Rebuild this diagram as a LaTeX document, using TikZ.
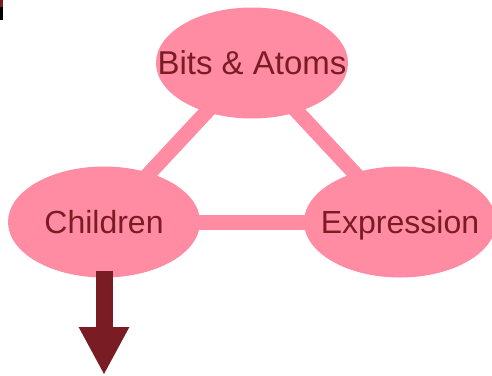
\documentclass[tikz,border=0pt]{standalone}
\usepackage{fontspec}
\setmainfont{Liberation Sans}
\usepackage{xcolor}
\usetikzlibrary{shapes.geometric, arrows.meta, backgrounds}
\definecolor{petal}{RGB}{255,140,162}
\definecolor{wine}{RGB}{122,28,36}
\tikzstyle{bubble} = [
    ellipse,
    minimum width=192pt, minimum height=111pt,
    inner sep=0pt,
    text height=23pt, text depth=0pt,
    text centered,
    fill=petal, text=wine,
    font=\fontsize{32}{36}\selectfont]
\tikzstyle{link} = [line width=15pt, draw=petal]
\tikzstyle{bigarrow} = [line width=17pt, draw=wine, -{Triangle[width=47pt,length=48pt]}]
\newcommand{\bubbletext}[1]{\makebox[0pt]{#1}}

\begin{document}
\begin{tikzpicture}[x=1pt, y=-1pt, node distance=159pt]
        \useasboundingbox (0,0) rectangle (492,375);

        \node (bits) [bubble, font=\fontsize{33}{38}\selectfont] at (252,63) {\bubbletext{Bits \& Atoms}};
        \node (children) [bubble, below of=bits, xshift=-148pt] {\bubbletext{Children}};
        \node (expression) [bubble, right of=children, xshift=137pt] {\bubbletext{Expression}};

        \begin{scope}[on background layer]
            \draw [link] (bits.center) -- (children.center);
            \draw [link] (bits.center) -- (expression.center);
            \draw [link] (children.center) -- (expression.center);
        \end{scope}

        \coordinate (drop) at (104,375);
        \draw [bigarrow] ([yshift=7pt]children.south) -- (drop);

        % mark in the corner
        \fill [wine] (0,0) rectangle (3,7);
        \fill [black] (0,7) rectangle (3,20);
    \end{tikzpicture}
\end{document}
